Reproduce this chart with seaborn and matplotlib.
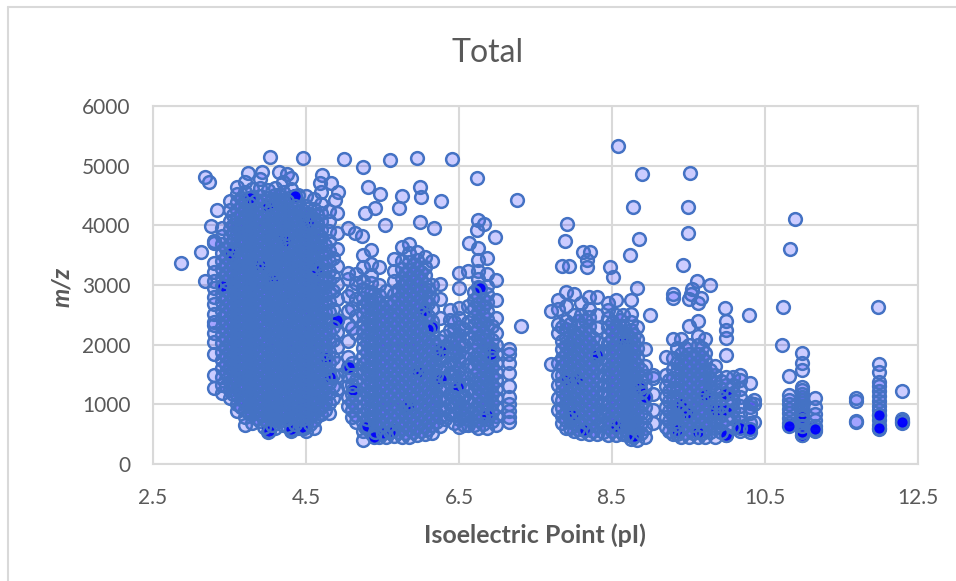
import matplotlib
matplotlib.use("Agg")
import matplotlib.pyplot as plt
from matplotlib.lines import Line2D
import pandas as pd
import seaborn as sns

title = "Total"
x_label = "Isoelectric Point (pI)"
y_label = "m/z"
x_ticks = [2.5, 4.5, 6.5, 8.5, 10.5, 12.5]
y_ticks = [0, 1000, 2000, 3000, 4000, 5000, 6000]

outlier_pi = [2.87, 3.13, 3.18, 3.23, 4.03, 4.46, 5.0, 5.25, 5.6, 5.95, 6.41, 6.74, 7.26, 6.26, 5.99, 6.0, 5.75,
              5.31, 5.47, 5.4, 5.72, 5.27, 5.53, 5.99, 6.17, 6.75, 6.83, 6.74, 6.97, 6.63, 5.14, 5.23, 8.58, 8.89,
              9.52, 8.77, 9.49, 10.89, 7.91, 9.49, 8.85, 7.89, 8.73, 10.83, 9.43, 8.47, 8.12, 8.21, 7.84, 7.94,
              9.61, 9.78, 8.51, 10.74, 9.98, 10.29, 9.0, 7.31, 11.98, 10.72, 9.3, 8.17, 8.17, 9.55, 9.53, 9.5, 9.66,
              3.74, 3.92, 4.15, 4.25, 4.71, 4.68, 4.83, 4.92, 4.88, 3.34, 3.26, 3.18]
outlier_mz = [3370, 3560, 4810, 4720, 5140, 5130, 5120, 4980, 5090, 5130, 5110, 4790, 4430, 4410, 4640, 4470, 4500,
              4640, 4520, 4290, 4290, 4200, 4000, 4060, 3950, 4090, 4020, 3920, 3800, 3700, 3870, 3820, 5330, 4860,
              4880, 4310, 4310, 4110, 4020, 3870, 3770, 3740, 3500, 3600, 3340, 3300, 3550, 3550, 3320, 3320,
              3070, 3000, 3130, 2630, 2620, 2500, 2500, 2310, 2630, 2000, 2850, 3420, 3300, 2930, 2850, 2760, 2780,
              4880, 4890, 4890, 4860, 4840, 4710, 4710, 4560, 4420, 4260, 3990, 3060]

# Spots where many peptides coincide, so the translucent faces stack up dark.
stacked_pi = [4.0, 3.77, 4.36, 4.52, 4.22, 4.07, 3.9, 4.63, 4.76, 5.27, 5.63, 5.83, 5.97, 6.15, 6.49, 6.77, 6.86,
              7.99, 8.13, 8.3, 8.55, 8.78, 8.87, 9.35, 9.48, 9.62, 9.72, 9.99, 10.17, 10.3, 10.82, 10.98, 11.15,
              11.99, 12.29, 4.01, 4.3, 4.48, 5.39, 5.51, 6.04, 8.04, 8.66, 9.86, 4.82, 4.9, 5.12, 6.92, 7.91, 8.93,
              9.4, 9.99, 9.99, 10.98, 11.99, 3.42, 3.52, 5.06, 6.26, 6.27]
stacked_mz = [4320, 4460, 4500, 4060, 3740, 3120, 3330, 3250, 1780, 620, 560, 980, 1540, 2290, 1290, 2950, 820,
              830, 570, 1820, 640, 460, 1280, 570, 860, 530, 1160, 490, 610, 580, 640, 490, 590,
              600, 710, 560, 590, 610, 450, 520, 2560, 1430, 2060, 910, 1450, 2410, 1240, 1850, 1420, 1120,
              1010, 900, 1180, 780, 820, 2980, 3530, 1630, 1900, 1420]
stack_depth = [15, 12, 14, 12, 12, 12, 12, 12, 14, 10, 12, 14, 14, 12, 12, 12, 12,
               12, 12, 12, 12, 15, 12, 12, 14, 12, 12, 15, 14, 14, 14, 16, 15,
               16, 14, 12, 12, 12, 12, 12, 12, 12, 12, 12, 12, 12, 12, 12, 12, 12,
               12, 12, 12, 12, 12, 10, 10, 12, 12, 12]

acidic = {
    3.3: [1280, 1490, 1850, 2050, 2190, 2330, 2380, 2520, 2680, 2800, 2950, 3060, 3210, 3370, 3710, 3730],
    3.4: [1190, 1330, 1460, 1610, 1740, 1880, 2020, 2170, 2300, 2440, 2570, 2710, 2850, 2980, 3120, 3260, 3400, 3540, 3690, 3820, 3960],
    3.5: [1100, 1240, 1370, 1510, 1640, 1780, 1910, 2050, 2180, 2320, 2450, 2590, 2720, 2860, 2990, 3130, 3260, 3400, 3530, 3670, 3800, 3940, 4070, 4250, 4400],
    3.6: [880, 1010, 1150, 1280, 1420, 1550, 1690, 1820, 1960, 2090, 2230, 2360, 2500, 2630, 2770, 2900, 3040, 3170, 3310, 3440, 3580, 3710, 3850, 3980, 4120, 4250, 4390, 4520, 4650],
    3.7: [650, 780, 910, 1050, 1180, 1320, 1450, 1590, 1720, 1860, 1990, 2130, 2260, 2400, 2530, 2670, 2800, 2940, 3070, 3210, 3340, 3480, 3610, 3750, 3880, 4020, 4150, 4290, 4420, 4560, 4720],
    3.8: [690, 830, 960, 1100, 1230, 1370, 1500, 1640, 1770, 1910, 2040, 2180, 2310, 2450, 2580, 2720, 2850, 2990, 3120, 3260, 3390, 3530, 3660, 3800, 3930, 4070, 4200, 4340, 4470, 4610],
    3.9: [720, 850, 990, 1120, 1260, 1390, 1530, 1660, 1800, 1930, 2070, 2200, 2340, 2470, 2610, 2740, 2880, 3010, 3150, 3280, 3420, 3550, 3690, 3820, 3960, 4090, 4230, 4360, 4500, 4630, 4780],
    4.0: [540, 670, 810, 940, 1080, 1210, 1350, 1480, 1620, 1750, 1890, 2020, 2160, 2290, 2430, 2560, 2700, 2830, 2970, 3100, 3240, 3370, 3510, 3640, 3780, 3910, 4050, 4180, 4320, 4450, 4590],
    4.1: [600, 730, 870, 1000, 1140, 1270, 1410, 1540, 1680, 1810, 1950, 2080, 2220, 2350, 2490, 2620, 2760, 2890, 3030, 3160, 3300, 3430, 3570, 3700, 3840, 3970, 4110, 4240, 4380, 4510, 4620],
    4.2: [650, 780, 920, 1050, 1190, 1320, 1460, 1590, 1730, 1860, 2000, 2130, 2270, 2400, 2540, 2670, 2810, 2940, 3080, 3210, 3350, 3480, 3620, 3750, 3890, 4020, 4160, 4290, 4430, 4560, 4720],
    4.3: [560, 690, 830, 960, 1100, 1230, 1370, 1500, 1640, 1770, 1910, 2040, 2180, 2310, 2450, 2580, 2720, 2850, 2990, 3120, 3260, 3390, 3530, 3660, 3800, 3930, 4070, 4200, 4340, 4470, 4610, 4800],
    4.4: [600, 730, 870, 1000, 1140, 1270, 1410, 1540, 1680, 1810, 1950, 2080, 2220, 2350, 2490, 2620, 2760, 2890, 3030, 3160, 3300, 3430, 3570, 3700, 3840, 3970, 4110, 4240, 4380, 4510],
    4.5: [550, 680, 820, 950, 1090, 1220, 1360, 1490, 1630, 1760, 1900, 2030, 2170, 2300, 2440, 2570, 2710, 2840, 2980, 3110, 3250, 3380, 3520, 3650, 3790, 3920, 4060, 4190, 4330, 4500],
    4.6: [600, 730, 870, 1000, 1140, 1270, 1410, 1540, 1680, 1810, 1950, 2080, 2220, 2350, 2490, 2620, 2760, 2890, 3030, 3160, 3300, 3430, 3570, 3700, 3840, 3970, 4110, 4280, 4440],
    4.7: [830, 960, 1100, 1230, 1370, 1500, 1640, 1770, 1910, 2040, 2180, 2310, 2450, 2580, 2720, 2850, 2990, 3120, 3260, 3390, 3530, 3660, 3800, 3930, 4070, 4210, 4350, 4560],
    4.8: [850, 1020, 1190, 1360, 1530, 1700, 1870, 2040, 2210, 2380, 2550, 2720, 2890, 3060, 3230, 3400, 3570, 3740, 3910, 4080, 4240],
    4.9: [1250, 1480, 1700, 1960, 2220, 2410, 2760, 3010, 3320, 3600, 3870, 4200],
}

acidic_core = {
    3.45: [1300, 1550, 1680, 1810, 1950, 2110, 2240, 2380, 2510, 2650, 2790, 2920, 3060, 3190, 3330, 3470, 3600],
    3.55: [1170, 1300, 1440, 1570, 1710, 1840, 1980, 2110, 2250, 2380, 2520, 2650, 2790, 2920, 3060, 3190, 3330, 3460, 3600, 3730, 3870, 4000, 4180],
    3.65: [960, 1090, 1220, 1350, 1490, 1620, 1760, 1890, 2030, 2160, 2300, 2430, 2570, 2700, 2840, 2970, 3110, 3240, 3380, 3510, 3650, 3780, 3920, 4050, 4190, 4320, 4460],
    3.75: [850, 980, 1120, 1250, 1390, 1520, 1660, 1790, 1930, 2060, 2200, 2330, 2470, 2600, 2740, 2870, 3010, 3140, 3280, 3410, 3550, 3680, 3820, 3950, 4090, 4220, 4360],
    3.85: [770, 900, 1040, 1170, 1310, 1440, 1580, 1710, 1850, 1980, 2120, 2250, 2390, 2520, 2660, 2790, 2930, 3060, 3200, 3330, 3470, 3600, 3740, 3870, 4010, 4140, 4280, 4410],
    3.95: [620, 750, 890, 1020, 1160, 1290, 1430, 1560, 1700, 1830, 1970, 2100, 2240, 2370, 2510, 2640, 2780, 2910, 3050, 3180, 3320, 3450, 3590, 3720, 3860, 3990, 4130, 4270, 4400],
    4.05: [660, 790, 930, 1060, 1200, 1330, 1470, 1600, 1740, 1870, 2010, 2140, 2280, 2410, 2550, 2680, 2820, 2950, 3090, 3220, 3360, 3490, 3630, 3760, 3900, 4030, 4170, 4310, 4440],
    4.15: [720, 850, 990, 1120, 1260, 1390, 1530, 1660, 1800, 1930, 2070, 2200, 2340, 2470, 2610, 2740, 2880, 3010, 3150, 3280, 3420, 3550, 3690, 3820, 3960, 4090, 4230, 4370, 4500],
    4.25: [630, 760, 900, 1030, 1170, 1300, 1440, 1570, 1710, 1840, 1980, 2110, 2250, 2380, 2520, 2650, 2790, 2920, 3060, 3190, 3330, 3460, 3600, 3730, 3870, 4000, 4140, 4280, 4410],
    4.35: [670, 800, 940, 1070, 1210, 1340, 1480, 1610, 1750, 1880, 2020, 2150, 2290, 2420, 2560, 2690, 2830, 2960, 3100, 3230, 3370, 3500, 3640, 3770, 3910, 4040, 4180, 4320],
    4.45: [620, 750, 890, 1020, 1160, 1290, 1430, 1560, 1700, 1830, 1970, 2100, 2240, 2370, 2510, 2640, 2780, 2910, 3050, 3180, 3320, 3450, 3590, 3720, 3860, 3990, 4130, 4260],
    4.55: [670, 800, 940, 1070, 1210, 1340, 1480, 1610, 1750, 1880, 2020, 2150, 2290, 2420, 2560, 2690, 2830, 2960, 3100, 3230, 3370, 3500, 3640, 3770, 3910, 4040, 4190],
    4.65: [800, 930, 1070, 1200, 1340, 1470, 1610, 1740, 1880, 2010, 2150, 2280, 2420, 2550, 2690, 2820, 2960, 3090, 3230, 3360, 3500, 3630, 3770, 3900, 4040, 4180],
    4.75: [900, 1040, 1180, 1320, 1460, 1600, 1730, 1860, 1990, 2130, 2270, 2410, 2550, 2690, 2830, 2970, 3110, 3250, 3390, 3530, 3670],
    4.85: [1100, 1300, 1500, 1780, 2080, 2300, 2600, 2900, 3150, 3450],
}

middle = {
    5.05: [980, 1130, 1300, 1470, 1630, 1800, 2060, 2350, 2570, 2820, 3100, 3200, 3960],
    5.15: [700, 820, 960, 1100, 1240, 1400, 1580, 2200, 2480, 2770, 3030, 3190],
    5.25: [400, 560, 700, 830, 970, 1110, 1250, 1390, 1530, 1670, 1810, 1950, 2090, 2230, 2370, 2510, 2650, 2790, 2930, 3070, 3300, 3500],
    5.35: [520, 650, 790, 930, 1070, 1210, 1350, 1490, 1630, 1770, 1910, 2050, 2190, 2330, 2470, 2610, 2750, 2890, 3030, 3170, 3360, 3580],
    5.45: [460, 600, 740, 880, 1020, 1160, 1300, 1440, 1580, 1720, 1860, 2000, 2140, 2280, 2420, 2560, 2700, 2840, 3000, 3300],
    5.55: [450, 590, 730, 870, 1010, 1150, 1290, 1430, 1570, 1710, 1850, 1990, 2130, 2270, 2410, 2550, 2690, 2900],
    5.65: [470, 610, 750, 890, 1030, 1170, 1310, 1450, 1590, 1730, 1870, 2010, 2150, 2290, 2430, 2570, 2710, 2850, 3060, 3240, 3440],
    5.75: [460, 600, 740, 880, 1020, 1160, 1300, 1440, 1580, 1720, 1860, 2000, 2140, 2280, 2420, 2560, 2700, 2840, 2980, 3120, 3260, 3400, 3640],
    5.85: [450, 590, 730, 870, 1010, 1150, 1290, 1430, 1570, 1710, 1850, 1990, 2130, 2270, 2410, 2550, 2690, 2830, 2970, 3110, 3250, 3390, 3530, 3680],
    5.95: [480, 620, 760, 900, 1040, 1180, 1320, 1460, 1600, 1740, 1880, 2020, 2160, 2300, 2440, 2580, 2720, 2860, 3000, 3140, 3280, 3420, 3560],
    6.05: [500, 640, 780, 920, 1060, 1200, 1340, 1480, 1620, 1760, 1900, 2040, 2180, 2320, 2460, 2600, 2740, 2880, 3020, 3160, 3300, 3470],
    6.15: [520, 660, 800, 940, 1080, 1220, 1360, 1500, 1640, 1780, 1920, 2060, 2210, 2400, 2600, 2790, 3000, 3400],
    6.25: [640, 790, 940, 1100, 1260, 1420, 1580, 1740, 1900, 2060, 2450, 2760, 3020],
    6.38: [830, 1010, 1180, 1360, 1530, 1700, 1880, 2060, 2240, 2420, 2580],
    6.5: [620, 760, 900, 1040, 1180, 1320, 1460, 1600, 1740, 1880, 2020, 2160, 2300, 2440, 2620, 2950, 3200],
    6.62: [650, 760, 900, 1060, 1240, 1440, 1660, 1860, 2120, 2380, 2640, 3240],
    6.75: [600, 730, 860, 1000, 1140, 1280, 1420, 1560, 1700, 1840, 1980, 2120, 2260, 2400, 2540, 2680, 2820, 2960, 3100, 3240, 3420, 3620],
    6.87: [610, 750, 890, 1030, 1170, 1310, 1450, 1590, 1730, 1870, 2010, 2150, 2290, 2430, 2570, 2710, 2850, 2990, 3180, 3460],
    6.98: [650, 800, 950, 1100, 1250, 1400, 1550, 1700, 1850, 2000, 2200, 2450, 2750, 3090],
    7.15: [700, 790, 880, 1000, 1120, 1310, 1520, 1700, 1840, 1930],
}

middle_core = {
    5.1: [780, 900, 1040, 1180, 1320, 1500, 1700, 2280, 2620, 2900],
    5.3: [630, 760, 900, 1040, 1180, 1320, 1460, 1600, 1740, 1880, 2020, 2160, 2300, 2440, 2580, 2720, 2860],
    5.4: [530, 670, 810, 950, 1090, 1230, 1370, 1510, 1650, 1790, 1930, 2070, 2210, 2350, 2490, 2630, 2770],
    5.5: [520, 660, 800, 940, 1080, 1220, 1360, 1500, 1640, 1780, 1920, 2060, 2200, 2340, 2480, 2620],
    5.6: [530, 670, 810, 950, 1090, 1230, 1370, 1510, 1650, 1790, 1930, 2070, 2210, 2350, 2490, 2640],
    5.7: [530, 670, 810, 950, 1090, 1230, 1370, 1510, 1650, 1790, 1930, 2070, 2210, 2350, 2490, 2630, 2770, 2910],
    5.8: [520, 660, 800, 940, 1080, 1220, 1360, 1500, 1640, 1780, 1920, 2060, 2200, 2340, 2480, 2620, 2760, 2900, 3040, 3180],
    5.9: [540, 680, 820, 960, 1100, 1240, 1380, 1520, 1660, 1800, 1940, 2080, 2220, 2360, 2500, 2640, 2780, 2920, 3060, 3200, 3340],
    6.0: [560, 700, 840, 980, 1120, 1260, 1400, 1540, 1680, 1820, 1960, 2100, 2240, 2380, 2520, 2660, 2800, 2940, 3080, 3220],
    6.1: [580, 720, 860, 1000, 1140, 1280, 1420, 1560, 1700, 1840, 1980, 2120, 2260, 2480, 2700, 2920],
    6.2: [700, 860, 1020, 1180, 1340, 1500, 1660, 1820, 1980],
    6.32: [760, 920, 1090, 1270, 1440, 1620, 1790, 1970, 2150],
    6.44: [690, 840, 980, 1120, 1260, 1400, 1540, 1680, 1820, 1960, 2100, 2240, 2380],
    6.56: [660, 800, 960, 1140, 1330, 1530, 1780, 2000, 2260],
    6.69: [650, 790, 930, 1070, 1210, 1350, 1490, 1630, 1770, 1910, 2050, 2190, 2330, 2470, 2610, 2750, 2890],
    6.81: [670, 810, 950, 1090, 1230, 1370, 1510, 1650, 1790, 1930, 2070, 2210, 2350, 2490, 2630, 2770],
    6.93: [720, 870, 1020, 1170, 1320, 1470, 1620, 1770, 1920, 2080, 2320],
}

basic = {
    7.7: [1680, 2570],
    7.8: [900, 1100, 1320, 1500, 1700, 2200, 2340, 2600, 2750],
    7.9: [600, 730, 860, 1000, 1140, 1280, 1420, 1560, 1700, 1840, 1980, 2120, 2260, 2400, 2640, 2880],
    8.0: [550, 680, 820, 960, 1100, 1240, 1380, 1520, 1660, 1800, 1940, 2080, 2220, 2500, 2850],
    8.1: [520, 650, 790, 930, 1070, 1210, 1350, 1490, 1630, 1770, 1910, 2050, 2190, 2330, 2500, 2700],
    8.2: [500, 640, 780, 920, 1060, 1200, 1340, 1480, 1620, 1760, 1900, 2040, 2180, 2320, 2460, 2600, 2800],
    8.3: [500, 640, 780, 920, 1060, 1200, 1340, 1480, 1620, 1760, 1900, 2040, 2280, 2500, 2800],
    8.45: [480, 620, 760, 900, 1040, 1180, 1320, 1460, 1600, 1740, 1880, 2020, 2160, 2300, 2440, 2580, 2700],
    8.55: [480, 620, 760, 900, 1040, 1180, 1320, 1460, 1600, 1740, 1880, 2020, 2160, 2300, 2500, 2750],
    8.65: [500, 640, 780, 920, 1060, 1200, 1340, 1480, 1620, 1760, 1900, 2040, 2180, 2320, 2500],
    8.75: [420, 560, 700, 840, 980, 1120, 1260, 1400, 1540, 1680, 1820, 1960, 2100, 2240, 2380, 2520, 2750],
    8.83: [400, 540, 680, 820, 960, 1100, 1240, 1380, 1520, 1660, 1800, 1940, 2100, 2300, 2950],
    8.93: [450, 610, 780, 950, 1120, 1300, 1480, 1650, 1930],
    9.03: [680, 900, 1180, 1440, 1500],
    9.2: [620, 780, 960, 1140, 1300, 1500, 1790],
    9.3: [510, 650, 800, 960, 1120, 1280, 1440, 1600, 1780, 2100, 2780],
    9.4: [450, 590, 730, 870, 1010, 1150, 1290, 1430, 1570, 1710, 1850, 2090],
    9.5: [450, 590, 730, 870, 1010, 1150, 1290, 1430, 1570, 1710, 1850, 2000, 2320],
    9.62: [450, 590, 730, 870, 1010, 1150, 1290, 1430, 1570, 1710, 1850, 2000, 2140, 2400, 2700],
    9.72: [460, 600, 740, 880, 1020, 1160, 1300, 1440, 1580, 1720, 1860, 2100],
    9.84: [460, 610, 760, 910, 1060, 1210, 1360, 1500, 1650],
    9.99: [480, 620, 760, 900, 1040, 1180, 1320, 1460, 1820, 2120, 2240, 2400],
    10.17: [560, 700, 840, 980, 1120, 1260, 1400, 1490],
    10.3: [540, 690, 860, 960, 1020, 1350],
    10.36: [710, 1000, 1070],
    10.82: [690, 770, 850, 930, 1000, 1080, 1160, 1480],
    10.98: [480, 580, 680, 780, 880, 980, 1080, 1180, 1290, 1570, 1700, 1860],
    11.15: [560, 640, 730, 830, 950, 1100],
    11.69: [700, 720, 1060, 1110],
    11.99: [580, 660, 740, 820, 900, 980, 1060, 1140, 1220, 1300, 1380, 1540, 1680],
    12.29: [680, 720, 750, 1220],
}

basic_core = {
    7.85: [680, 800, 940, 1080, 1220, 1360, 1500, 1640, 1780, 1920, 2060, 2300],
    7.95: [610, 750, 890, 1030, 1170, 1310, 1450, 1590, 1730, 1870, 2010, 2150, 2350],
    8.05: [590, 730, 870, 1010, 1150, 1290, 1430, 1570, 1710, 1850, 1990, 2130, 2400],
    8.15: [570, 710, 850, 990, 1130, 1270, 1410, 1550, 1690, 1830, 1970, 2110, 2250, 2420],
    8.25: [560, 700, 840, 980, 1120, 1260, 1400, 1540, 1680, 1820, 1960, 2120],
    8.38: [530, 690, 850, 1010, 1170, 1330, 1490, 1680, 1900],
    8.5: [550, 690, 830, 970, 1110, 1250, 1390, 1530, 1670, 1810, 1950, 2090, 2230, 2370],
    8.6: [550, 690, 830, 970, 1110, 1250, 1390, 1530, 1670, 1810, 1950, 2090, 2230, 2410],
    8.7: [490, 630, 770, 910, 1050, 1190, 1330, 1470, 1610, 1750, 1890, 2030, 2170],
    8.79: [470, 610, 750, 890, 1030, 1170, 1310, 1450, 1590, 1730, 1870, 2010, 2170],
    8.88: [520, 690, 860, 1030, 1200, 1390, 1570],
    9.25: [560, 720, 880, 1050, 1220, 1400],
    9.35: [500, 650, 800, 950, 1100, 1250, 1400, 1550, 1700, 1950],
    9.45: [520, 660, 800, 940, 1080, 1220, 1360, 1500, 1640, 1780, 1950],
    9.56: [520, 660, 800, 940, 1080, 1220, 1360, 1500, 1640, 1780],
    9.67: [520, 660, 800, 940, 1080, 1220, 1360, 1500, 1650, 1800, 1950],
    9.78: [530, 680, 830, 980, 1130, 1280, 1430, 1580],
    9.92: [540, 690, 830, 970, 1110, 1250, 1390],
    10.08: [620, 770, 910, 1050, 1190, 1330, 1460],
    10.98: [530, 630, 730, 830, 930, 1030, 1130, 1240],
}


def table(*blocks):
    pi_list, mz_list = [], []
    for block in blocks:
        for pi, masses in block.items():
            pi_list += [pi] * len(masses)
            mz_list += masses
    return pd.DataFrame({"pI": pi_list, "mz": mz_list})


stacked_rows = {"pI": [], "mz": []}
for pi, mz, depth in zip(stacked_pi, stacked_mz, stack_depth):
    stacked_rows["pI"] += [pi] * depth
    stacked_rows["mz"] += [mz] * depth
stacked = pd.DataFrame(stacked_rows)
outliers = pd.DataFrame({"pI": outlier_pi, "mz": outlier_mz})
base = pd.concat([outliers, table(acidic, middle, basic)])
core = table(acidic_core, middle_core, basic_core)

sns.set_theme(style="white")
plt.rcParams["font.family"] = ["Lato", "DejaVu Sans"]

fig = plt.figure(figsize=(9.56, 5.81), dpi=100)
ax = fig.add_axes([153 / 956, 1 - 464 / 581, (918 - 153) / 956, (464 - 106) / 581])


def faces(data, order):
    sns.scatterplot(data=data, x="pI", y="mz", ax=ax, s=84, color=(0, 0, 1, 0.2),
                    edgecolor="none", linewidth=0, zorder=order, clip_on=False, legend=False)


def rings(data, order):
    sns.scatterplot(data=data, x="pI", y="mz", ax=ax, s=84, color=(0, 0, 1, 0),
                    edgecolor="#4472C4", linewidth=1.8, zorder=order, clip_on=False, legend=False)


# Faces first, then opaque outlines; the last outlines partly cover the dark stacks.
faces(pd.concat([base, core]), 3)
rings(base, 4)
faces(stacked, 5)
rings(stacked.drop_duplicates(), 6)
rings(core, 7)

ax.set_xlim(2.5, 12.5)
ax.set_ylim(0, 6000)
ax.set_xticks(x_ticks, [str(t) for t in x_ticks])
ax.set_yticks(y_ticks)
ax.grid(True, color="#D9D9D9", linewidth=1.5)
ax.set_axisbelow(True)
for spine in ax.spines.values():
    spine.set_color("#D9D9D9")
    spine.set_linewidth(1.5)
ax.tick_params(axis="both", length=0, labelsize=15, labelcolor="#595959")
ax.yaxis.set_tick_params(pad=16)
ax.xaxis.set_tick_params(pad=17)
fig.text(488 / 956, 1 - 53 / 581, title, fontsize=23, color="#595959", ha="center", va="center")
fig.text(535 / 956, 1 - 535 / 581, x_label, fontsize=18, fontweight="bold", color="#595959", ha="center", va="center")
fig.text(62 / 956, 1 - 287 / 581, y_label, fontsize=17.5, fontweight="bold", fontstyle="italic", color="#595959",
         ha="center", va="center", rotation=90)
ax.set_xlabel("")
ax.set_ylabel("")
fig.add_artist(Line2D([8 / 956, 8 / 956], [0, 1 - 7 / 581], color="#D9D9D9", linewidth=1.5))
fig.add_artist(Line2D([8 / 956, 1], [1 - 7 / 581, 1 - 7 / 581], color="#D9D9D9", linewidth=1.5))
fig.savefig("out.png", dpi=100)
